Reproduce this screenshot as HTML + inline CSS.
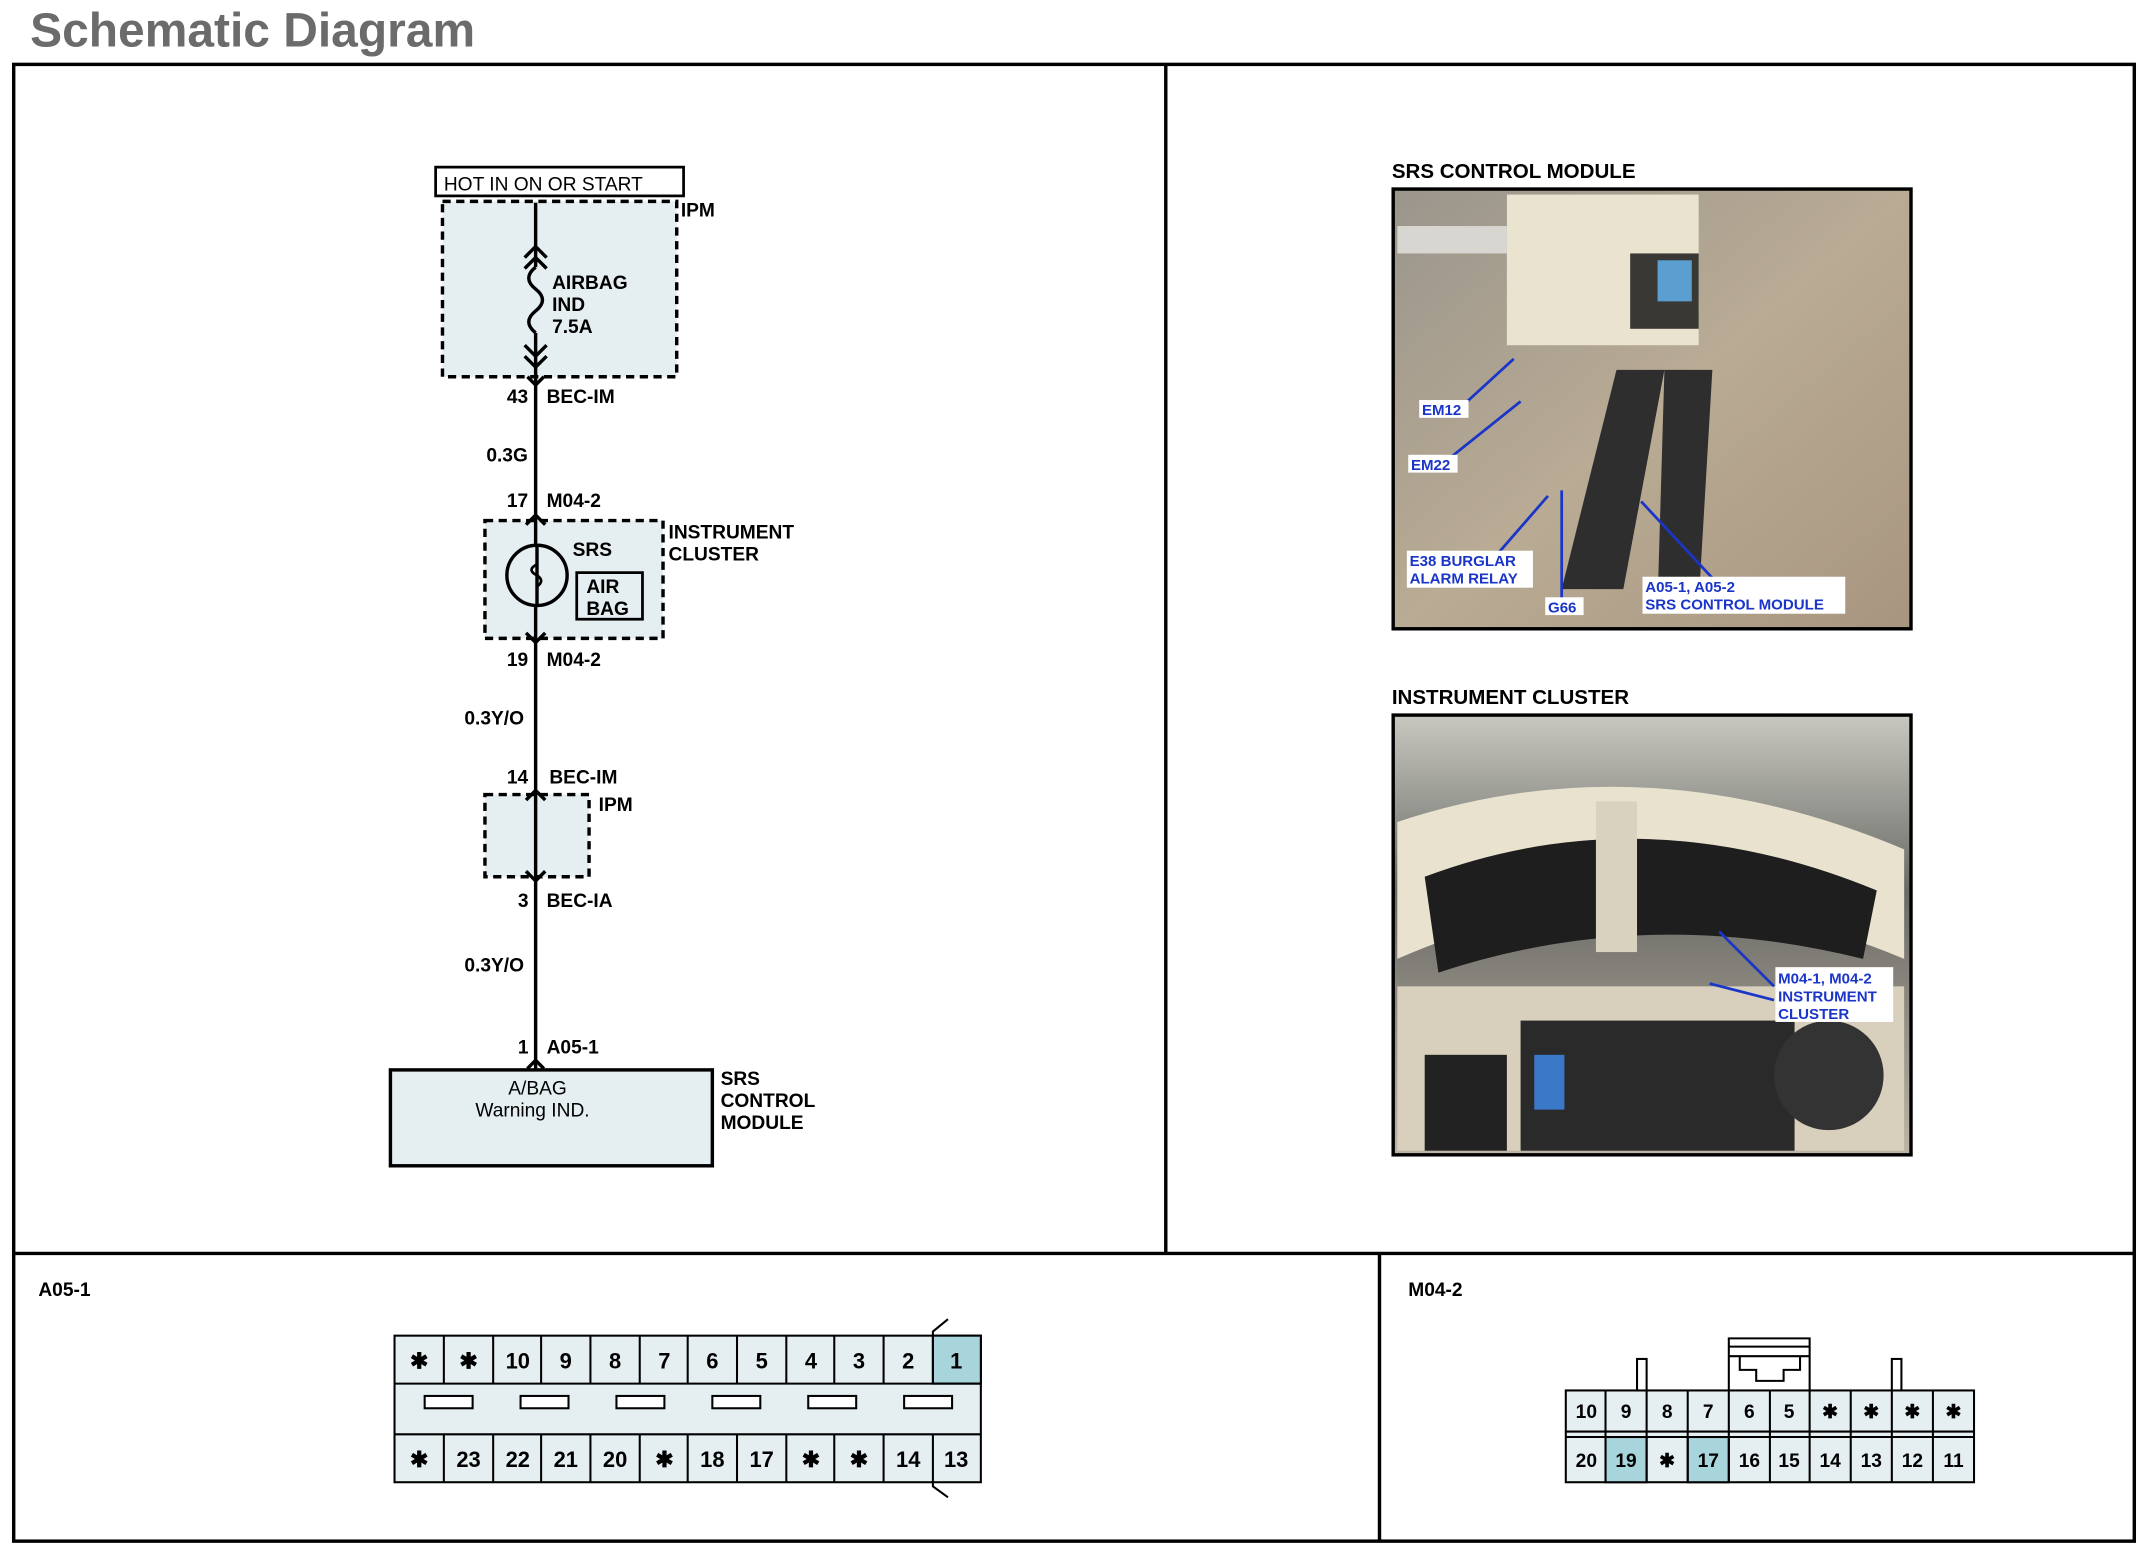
<!DOCTYPE html>
<html><head><meta charset="utf-8"><style>
html,body{margin:0;padding:0;background:#fff;}
svg{display:block;}
text{font-family:"Liberation Sans",Arial,sans-serif;font-weight:bold;}
</style></head><body>
<svg width="2148" height="1548" viewBox="0 0 1568 1130" xmlns="http://www.w3.org/2000/svg">
<defs>
<linearGradient id="p1" x1="0" y1="0" x2="1" y2="1"><stop offset="0" stop-color="#9a958c"/><stop offset="0.5" stop-color="#b9ab94"/><stop offset="1" stop-color="#a89580"/></linearGradient>
<linearGradient id="p2" x1="0" y1="0" x2="0" y2="1"><stop offset="0" stop-color="#c8c8c0"/><stop offset="0.4" stop-color="#6a6a66"/><stop offset="1" stop-color="#bdb5a5"/></linearGradient>
</defs>
<rect width="1568" height="1130" fill="#fff"/>
<text x="22" y="34" font-size="35" fill="#6b6b6b">Schematic Diagram</text>
<g fill="none" stroke="#000" stroke-width="2.5">
<rect x="10" y="47" width="1548" height="1078"/>
<line x1="851" y1="47" x2="851" y2="915"/>
<line x1="10" y1="915" x2="1558" y2="915"/>
<line x1="1007" y1="915" x2="1007" y2="1125"/>
</g>
<!-- schematic -->
<rect x="318" y="122" width="181" height="21" fill="#fff" stroke="#000" stroke-width="2"/>
<text x="324" y="139" font-size="14" style="font-weight:normal">HOT IN ON OR START</text>
<rect x="323" y="147" width="171" height="128" fill="#e5eef0" stroke="#000" stroke-width="2.5" stroke-dasharray="6,4"/>
<rect x="354" y="380" width="130" height="86" fill="#e5eef0" stroke="#000" stroke-width="2.5" stroke-dasharray="6,4"/>
<rect x="354" y="580" width="76" height="60" fill="#e5eef0" stroke="#000" stroke-width="2.5" stroke-dasharray="6,4"/>
<g stroke="#000" stroke-width="2.5" fill="none">
<line x1="391" y1="148" x2="391" y2="195"/>
<path d="M391 195 q-10 8 0 16 q10 8 0 16 q-10 8 0 16"/>
<line x1="391" y1="243" x2="391" y2="780"/>
<path d="M383 188 l8 -8 l8 8 M383 196 l8 -8 l8 8"/>
<path d="M383 252 l8 8 l8 -8 M383 260 l8 8 l8 -8 M385 275 l6 6 l6 -6"/>
<path d="M384 383 l7 -7 l7 7 M384 462 l7 7 l7 -7"/>
<path d="M384 584 l7 -7 l7 7 M384 636 l7 7 l7 -7"/>
<path d="M385 780 l6 -6 l6 6"/>
<circle cx="392" cy="420" r="22" fill="#e5eef0"/>
<path d="M392 412 q-8 4 0 8 q6 4 0 8" stroke-width="2"/>
<rect x="421" y="418" width="48" height="34" fill="#e5eef0" stroke-width="2"/>
</g>
<line x1="392" y1="398" x2="392" y2="442" stroke="#000" stroke-width="2.5"/>
<g font-size="14">
<text x="497" y="158">IPM</text>
<text x="403" y="211">AIRBAG</text><text x="403" y="227">IND</text><text x="403" y="243">7.5A</text>
<text x="370" y="294">43</text><text x="399" y="294">BEC-IM</text>
<text x="355" y="337">0.3G</text>
<text x="370" y="370">17</text><text x="399" y="370">M04-2</text>
<text x="488" y="393">INSTRUMENT</text><text x="488" y="409">CLUSTER</text>
<text x="418" y="406">SRS</text>
<text x="428" y="433">AIR</text><text x="428" y="449">BAG</text>
<text x="370" y="486">19</text><text x="399" y="486">M04-2</text>
<text x="339" y="529">0.3Y/O</text>
<text x="370" y="572">14</text><text x="401" y="572">BEC-IM</text>
<text x="437" y="592">IPM</text>
<text x="378" y="662">3</text><text x="399" y="662">BEC-IA</text>
<text x="339" y="709">0.3Y/O</text>
<text x="378" y="769">1</text><text x="399" y="769">A05-1</text>
<text x="526" y="792">SRS</text><text x="526" y="808">CONTROL</text><text x="526" y="824">MODULE</text>
</g>
<rect x="285" y="781" width="235" height="70" fill="#e5eef0" stroke="#000" stroke-width="2.5"/>
<text x="371" y="799" font-size="14" style="font-weight:normal">A/BAG</text>
<text x="347" y="815" font-size="14" style="font-weight:normal">Warning IND.</text>
<!-- photo 1 -->
<text x="1016" y="130" font-size="15">SRS CONTROL MODULE</text>
<rect x="1017" y="138" width="378" height="321" fill="url(#p1)" stroke="#000" stroke-width="2.5"/>
<rect x="1100" y="142" width="140" height="110" fill="#e9e3cf"/>
<rect x="1190" y="185" width="50" height="55" fill="#3a3835"/>
<path d="M1140 430 L1180 270 L1215 270 L1185 430 Z M1210 440 L1215 270 L1250 270 L1240 440 Z" fill="#2e2e2e"/>
<rect x="1210" y="190" width="25" height="30" fill="#5a9fd0"/>
<rect x="1020" y="165" width="80" height="20" fill="#d8d6d0"/>
<g stroke="#1a35c8" stroke-width="2" fill="none">
<path d="M1070 294 L1105 262 M1060 333 L1110 293 M1090 408 L1130 362 M1140 440 L1140 358 M1250 422 L1198 366"/>
</g>
<g font-size="11" fill="#1a35c8">
<rect x="1036" y="292" width="36" height="13" fill="#fff"/><text x="1038" y="303">EM12</text>
<rect x="1028" y="332" width="36" height="13" fill="#fff"/><text x="1030" y="343">EM22</text>
<rect x="1027" y="402" width="92" height="27" fill="#fff"/><text x="1029" y="413">E38 BURGLAR</text><text x="1029" y="426">ALARM RELAY</text>
<rect x="1128" y="436" width="28" height="13" fill="#fff"/><text x="1130" y="447">G66</text>
<rect x="1199" y="421" width="148" height="27" fill="#fff"/><text x="1201" y="432">A05-1, A05-2</text><text x="1201" y="445">SRS CONTROL MODULE</text>
</g>
<!-- photo 2 -->
<text x="1016" y="514" font-size="15">INSTRUMENT CLUSTER</text>
<rect x="1017" y="522" width="378" height="321" fill="url(#p2)" stroke="#000" stroke-width="2.5"/>
<path d="M1020 600 Q1200 540 1390 620 L1390 700 Q1200 620 1020 700 Z" fill="#e8e2cf"/>
<path d="M1040 640 Q1200 580 1370 650 L1360 700 Q1200 660 1050 710 Z" fill="#1e1e1e"/>
<rect x="1020" y="720" width="370" height="120" fill="#d8d0bc"/>
<rect x="1110" y="745" width="200" height="95" fill="#2a2a2a"/>
<rect x="1040" y="770" width="60" height="70" fill="#222"/>
<rect x="1120" y="770" width="22" height="40" fill="#3a78c8"/>
<circle cx="1335" cy="785" r="40" fill="#333"/>
<rect x="1165" y="585" width="30" height="110" fill="#d8d2bf"/>
<g stroke="#1a35c8" stroke-width="2" fill="none"><path d="M1295 720 L1255 680 M1295 730 L1248 718"/></g>
<g font-size="11" fill="#1a35c8">
<rect x="1296" y="706" width="86" height="40" fill="#fff"/><text x="1298" y="718">M04-1, M04-2</text><text x="1298" y="731">INSTRUMENT</text><text x="1298" y="744">CLUSTER</text>
</g>
<!-- A05-1 connector -->
<text x="28" y="946" font-size="14">A05-1</text>
<g stroke="#000" stroke-width="1.5">
<rect x="288" y="975" width="428" height="107" fill="#e5eef0"/>
<rect x="681" y="975" width="35" height="35" fill="#a8d4dc"/>
<line x1="288" y1="1010" x2="716" y2="1010"/><line x1="288" y1="1047" x2="716" y2="1047"/>
<path d="M681 975 L681 972 L692 963 M681 1082 L681 1085 L692 1093" fill="none"/>
</g>
<g stroke="#000" stroke-width="1.5" fill="#fff">
<rect x="310" y="1019" width="35" height="9"/><rect x="380" y="1019" width="35" height="9"/><rect x="450" y="1019" width="35" height="9"/><rect x="520" y="1019" width="35" height="9"/><rect x="590" y="1019" width="35" height="9"/><rect x="660" y="1019" width="35" height="9"/>
</g>
<g stroke="#000" stroke-width="1.5">
<line x1="324" y1="975" x2="324" y2="1010"/><line x1="360" y1="975" x2="360" y2="1010"/><line x1="395" y1="975" x2="395" y2="1010"/><line x1="431" y1="975" x2="431" y2="1010"/><line x1="467" y1="975" x2="467" y2="1010"/><line x1="502" y1="975" x2="502" y2="1010"/><line x1="538" y1="975" x2="538" y2="1010"/><line x1="574" y1="975" x2="574" y2="1010"/><line x1="609" y1="975" x2="609" y2="1010"/><line x1="645" y1="975" x2="645" y2="1010"/><line x1="681" y1="975" x2="681" y2="1010"/>
<line x1="324" y1="1047" x2="324" y2="1082"/><line x1="360" y1="1047" x2="360" y2="1082"/><line x1="395" y1="1047" x2="395" y2="1082"/><line x1="431" y1="1047" x2="431" y2="1082"/><line x1="467" y1="1047" x2="467" y2="1082"/><line x1="502" y1="1047" x2="502" y2="1082"/><line x1="538" y1="1047" x2="538" y2="1082"/><line x1="574" y1="1047" x2="574" y2="1082"/><line x1="609" y1="1047" x2="609" y2="1082"/><line x1="645" y1="1047" x2="645" y2="1082"/><line x1="681" y1="1047" x2="681" y2="1082"/>
</g>
<g font-size="16" text-anchor="middle" style="font-weight:normal">
<text x="306" y="999">✱</text><text x="342" y="999">✱</text><text x="378" y="999">10</text><text x="413" y="999">9</text><text x="449" y="999">8</text><text x="485" y="999">7</text><text x="520" y="999">6</text><text x="556" y="999">5</text><text x="592" y="999">4</text><text x="627" y="999">3</text><text x="663" y="999">2</text><text x="698" y="999">1</text>
<text x="306" y="1071">✱</text><text x="342" y="1071">23</text><text x="378" y="1071">22</text><text x="413" y="1071">21</text><text x="449" y="1071">20</text><text x="485" y="1071">✱</text><text x="520" y="1071">18</text><text x="556" y="1071">17</text><text x="592" y="1071">✱</text><text x="627" y="1071">✱</text><text x="663" y="1071">14</text><text x="698" y="1071">13</text>
</g>
<!-- M04-2 connector -->
<text x="1028" y="946" font-size="14">M04-2</text>
<g stroke="#000" stroke-width="1.5" fill="#e5eef0">
<rect x="1143" y="1015" width="298" height="67"/>
<rect x="1172" y="1049" width="30" height="33" fill="#a8d4dc"/>
<rect x="1232" y="1049" width="30" height="33" fill="#a8d4dc"/>
<line x1="1143" y1="1045" x2="1441" y2="1045"/><line x1="1143" y1="1049" x2="1441" y2="1049"/>
<rect x="1195" y="992" width="7" height="23" fill="#fff"/><rect x="1381" y="992" width="7" height="23" fill="#fff"/>
<path d="M1262 1015 L1262 977 L1321 977 L1321 1015 M1262 983 L1321 983 M1262 990 L1321 990 M1270 990 L1270 1000 L1282 1000 L1282 1008 L1302 1008 L1302 1000 L1314 1000 L1314 990" fill="none"/>
</g>
<g stroke="#000" stroke-width="1.5">
<line x1="1172" y1="1015" x2="1172" y2="1082"/><line x1="1202" y1="1015" x2="1202" y2="1082"/><line x1="1232" y1="1015" x2="1232" y2="1082"/><line x1="1262" y1="1015" x2="1262" y2="1082"/><line x1="1292" y1="1015" x2="1292" y2="1082"/><line x1="1321" y1="1015" x2="1321" y2="1082"/><line x1="1351" y1="1015" x2="1351" y2="1082"/><line x1="1381" y1="1015" x2="1381" y2="1082"/><line x1="1411" y1="1015" x2="1411" y2="1082"/>
</g>
<g font-size="14" text-anchor="middle" style="font-weight:normal">
<text x="1158" y="1035">10</text><text x="1187" y="1035">9</text><text x="1217" y="1035">8</text><text x="1247" y="1035">7</text><text x="1277" y="1035">6</text><text x="1306" y="1035">5</text><text x="1336" y="1035">✱</text><text x="1366" y="1035">✱</text><text x="1396" y="1035">✱</text><text x="1426" y="1035">✱</text>
<text x="1158" y="1071">20</text><text x="1187" y="1071">19</text><text x="1217" y="1071">✱</text><text x="1247" y="1071">17</text><text x="1277" y="1071">16</text><text x="1306" y="1071">15</text><text x="1336" y="1071">14</text><text x="1366" y="1071">13</text><text x="1396" y="1071">12</text><text x="1426" y="1071">11</text>
</g>
</svg>
</body></html>
